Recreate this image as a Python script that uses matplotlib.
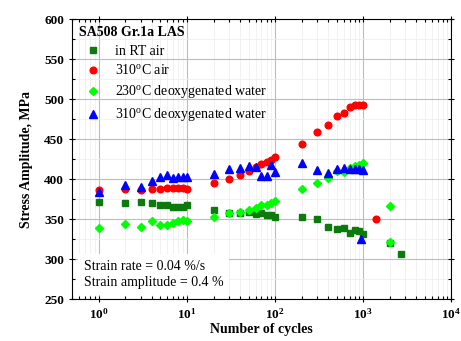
import matplotlib
matplotlib.use('Agg')
import matplotlib.pyplot as plt
from matplotlib.ticker import LogLocator, MultipleLocator, FixedLocator

plt.rcParams['font.family'] = 'Liberation Serif'
plt.rcParams['mathtext.fontset'] = 'custom'
plt.rcParams['mathtext.rm'] = 'Liberation Serif'
plt.rcParams['mathtext.bf'] = 'Liberation Serif:bold'

# in RT air
rt_n = [1, 2, 3, 4, 5, 6, 7, 8, 9, 10, 20, 30, 40, 50, 60, 70, 80, 90, 100,
        200, 300, 400, 500, 600, 700, 800, 900, 1000, 2000, 2700]
rt_s = [371, 370, 371, 370, 368, 368, 365, 365, 365, 368, 361, 357, 357, 359, 356, 357, 355, 355, 353,
        352, 350, 340, 337, 339, 333, 336, 335, 331, 320, 306]

# 310C air
air310_n = [1, 2, 3, 4, 5, 6, 7, 8, 9, 10, 20, 30, 40, 50, 60, 70, 80, 90, 100,
            200, 300, 400, 500, 600, 700, 800, 900, 1000, 1400]
air310_s = [386, 387, 386, 387, 387, 389, 389, 389, 389, 388, 395, 400, 405, 410, 415, 419, 421, 424, 427,
            444, 459, 467, 479, 483, 490, 492, 492, 492, 350]

# 230C deoxygenated water
w230_n = [1, 2, 3, 4, 5, 6, 7, 8, 9, 10, 20, 30, 40, 50, 60, 70, 80, 90, 100,
          200, 300, 400, 500, 600, 700, 800, 900, 1000, 2000, 2000]
w230_s = [339, 344, 340, 347, 342, 343, 345, 347, 349, 348, 352, 358, 359, 361, 364, 367, 367, 370, 372,
          387, 395, 401, 410, 409, 414, 416, 418, 420, 366, 321]

# 310C deoxygenated water
w310_n = [1, 2, 3, 4, 5, 6, 7, 8, 9, 10, 20, 30, 40, 50, 60, 70, 80, 90, 100,
          200, 300, 400, 500, 600, 700, 800, 900, 1000, 950]
w310_s = [384, 392, 390, 397, 403, 405, 401, 403, 403, 403, 406, 412, 414, 416, 415, 404, 404, 418, 409,
          420, 411, 408, 412, 414, 413, 412, 412, 411, 325]

fig = plt.figure(figsize=(4.61, 3.41), dpi=100)
ax = fig.add_axes([0.157, 0.123, 0.822, 0.821])

ax.plot(rt_n, rt_s, 's', color='#0d7a0d', ms=4.2, mec='#0d7a0d', label='in RT air', zorder=3)
ax.plot(air310_n, air310_s, 'o', color='#ff0000', ms=4.8, label='310$^{\\mathrm{o}}$C air', zorder=3)
ax.plot(w230_n, w230_s, 'D', color='#00ff00', ms=4.2, label='230$^{\\mathrm{o}}$C deoxygenated water', zorder=3)
ax.plot(w310_n, w310_s, '^', color='#0000ff', ms=5.2, label='310$^{\\mathrm{o}}$C deoxygenated water', zorder=3)

ax.set_xscale('log')
ax.set_xlim(0.5, 1e4)
ax.set_ylim(250, 600)
ax.yaxis.set_major_locator(MultipleLocator(50))
ax.yaxis.set_minor_locator(MultipleLocator(25))
ax.xaxis.set_major_locator(FixedLocator([1, 10, 100, 1000, 10000]))
ax.xaxis.set_minor_locator(LogLocator(base=10, subs=range(2, 10)))
ax.set_xticklabels(['$\\mathbf{10^{%d}}$' % i for i in range(5)])
for t in ax.get_yticklabels():
    t.set_fontweight('bold')
ax.tick_params(axis='both', which='major', labelsize=9.5, direction='inout', length=5, width=0.8,
               top=True, right=True)
ax.tick_params(axis='both', which='minor', direction='in', length=2.5, width=0.8, top=True, right=True)

ax.grid(True, which='major', color='#bdbdbd', lw=0.8, zorder=0)
ax.grid(True, which='minor', color='#efefef', lw=0.6, zorder=0)
ax.set_axisbelow(True)

ax.set_xlabel('Number of cycles', fontsize=10, fontweight='bold', labelpad=1)
ax.set_ylabel('Stress Amplitude, MPa', fontsize=10, fontweight='bold', labelpad=8)

leg = ax.legend(loc='upper left', title='SA508 Gr.1a LAS', frameon=False, fontsize=10,
                title_fontproperties={'weight': 'bold', 'size': 10}, alignment='left',
                handletextpad=0.6, labelspacing=0.4, borderaxespad=0.3, borderpad=0.2,
                handlelength=2.0)

ax.text(0.03, 0.035, 'Strain rate = 0.04 %/s\nStrain amplitude = 0.4 %', transform=ax.transAxes,
        fontsize=10, linespacing=1.35, va='bottom', ha='left',
        bbox=dict(facecolor='white', edgecolor='none', pad=4), zorder=4)

fig.savefig('out.png', dpi=100)
